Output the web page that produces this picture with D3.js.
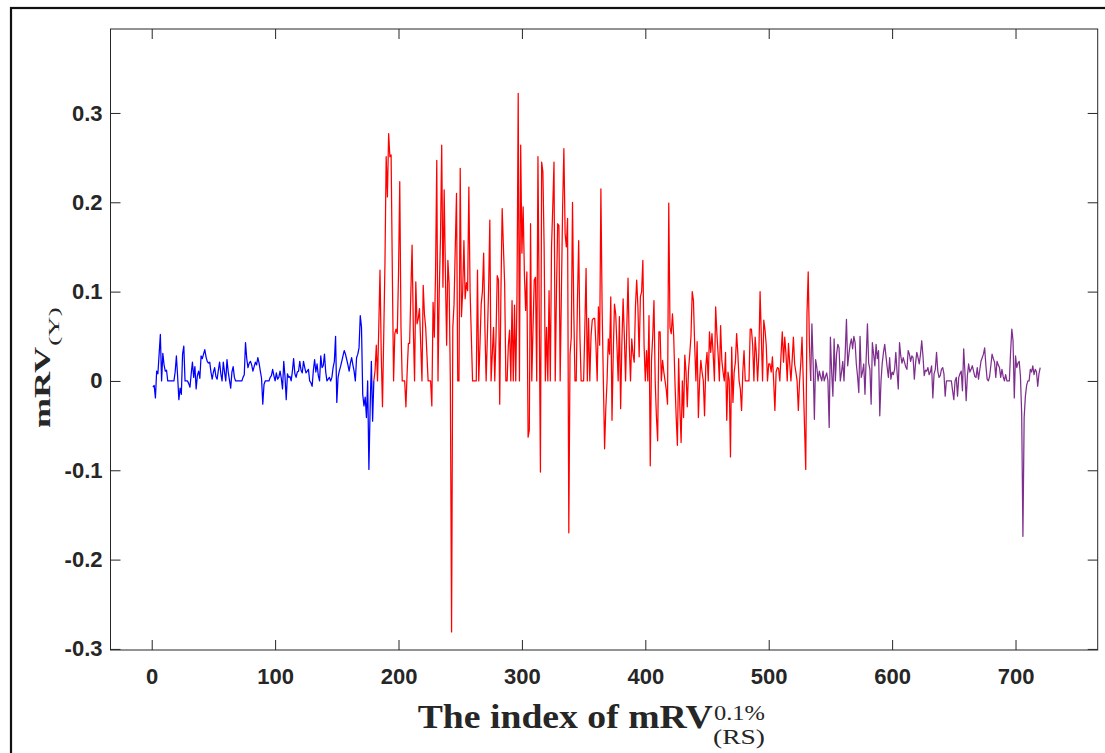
<!DOCTYPE html>
<html>
<head>
<meta charset="utf-8">
<script src="https://cdn.jsdelivr.net/npm/d3@7"></script>
<style>
  html, body { margin: 0; padding: 0; background: #fff; }
  svg { display: block; }
</style>
</head>
<body>
<svg id="chart" width="1105" height="753"></svg>
<script>
// ---------------- data ----------------
const xTicks = [0, 100, 200, 300, 400, 500, 600, 700];
const yTicks = [-0.3, -0.2, -0.1, 0, 0.1, 0.2, 0.3];
const yTickLabels = ["-0.3", "-0.2", "-0.1", "0", "0.1", "0.2", "0.3"];

const blueStart = 1;
const blueValues = [
  -0.007,-0.005,-0.019,0.011,0.008,0.030,0.052,0,0.031,0.018,
  0.011,0.012,0,0,0,0,0,0,0.010,0.028,
  0.005,-0.021,-0.008,-0.015,0.030,0.039,0,0,0,-0.003,
  -0.007,0.008,0.021,0.004,0.016,-0.009,0.006,0.011,0.003,0.028,
  0.025,0.030,0.035,0.027,0.022,0.020,0.021,0.010,0.002,0.010,
  0.015,0.005,0.002,0.012,0.021,0.008,0,0.021,0.010,0,
  0.024,0.010,0.001,-0.008,0.010,0.016,0.004,0,0,0,
  0,0,0,0.004,0.007,0.043,0.025,0.015,0.020,0.022,
  0.018,0.011,0.016,0.021,0.018,0.026,0.020,0.011,0.003,-0.026,
  -0.004,0,0,0,0,0.004,0.006,0.013,0.006,0,
  0.009,0.002,0.004,0.011,0.003,-0.009,0.022,0.005,-0.021,0.008,
  0.004,0.005,0,0.011,0.025,0.008,0.004,0.010,0.011,0.022,
  0.012,0.009,0.022,0.015,0.009,0.011,0.013,0,-0.002,-0.006,
  0.012,0.024,0.010,0.019,0.006,0,0.028,0.015,0.017,0.030,
  0.010,0,0.002,0.004,0,0.004,0.015,0.022,0.050,-0.024,
  0.004,0.011,0.016,0.022,0.028,0.034,0.030,0.024,0.018,0.011,
  0.020,0.026,0.018,0.011,0,0.026,0.030,0.037,0.073,0.060,
  -0.015,-0.028,-0.018,-0.041,0,-0.099,-0.030,0.022,-0.045,0
];

const redStart = 180;
const redValues = [
  0,0.012,0.040,0,0.060,0.124,0.030,-0.029,0.050,0.130,
  0.251,0.206,0.277,0.251,0.253,0.120,0,0.053,0.058,0.053,
  0.120,0.223,0.060,0,0,0,-0.029,0.010,0.042,0.042,
  0.100,0.152,0.060,0,0.111,0.064,0.070,0.081,0.040,0,
  0.107,0.075,0.060,0.030,0,0,0,-0.028,0.088,0.049,
  0.120,0.247,0,0.100,0.160,0.264,0.105,0.214,0.120,0.040,
  0.135,0.109,0,-0.281,0.060,0.086,0.150,0.210,0,0,
  0.238,0.072,0.100,0.157,0.092,0.110,0.101,0.217,0.101,0.050,
  0,0,0,0,0.124,0,0.040,0.086,0.100,0.143,
  0.060,0,0.050,0.103,0.180,0,0.030,0.060,0,0.050,
  0.118,0.113,-0.026,0.100,0.193,0.150,0.109,0,0,0.040,
  0.057,0,0.090,0,0.085,0,0.094,0.322,0,0.264,
  0.143,0.195,0.120,0.079,0.122,-0.063,-0.055,0.176,0,0.060,
  0.113,0.116,0,0.251,0.080,-0.102,0.245,0.234,0.150,0,
  0.060,0,0.101,0,0.150,0.195,0.245,0,0.100,0.176,
  0.174,0,0.100,0.195,0.260,0.165,0.150,0.182,-0.170,0.030,
  0.049,0.200,0.080,0,0,0.090,0.157,0.050,0,0,
  0,0.060,0.126,0,0.070,0,0.050,0.068,0.070,0.070,
  0.040,0,0.083,0.040,0.215,0.080,0,-0.076,-0.030,0,
  0.047,0.030,0.094,-0.044,0.030,0.086,0.075,0.040,0,0.072,
  -0.031,0.042,0.092,0.050,0,0.060,0.115,0.040,0,0.047,
  0.030,0.021,0.083,0.113,0.083,0.027,0.094,0.100,0.135,0.040,
  0,0.034,0,0.073,-0.095,0.023,0.050,0.090,0,-0.040,
  -0.067,0.055,0.055,0,0.023,0.010,0,-0.010,-0.026,0.199,
  0.060,0.053,0.075,0.050,0,-0.040,-0.072,0.025,-0.030,-0.069,
  0,-0.041,0.029,0.010,-0.029,0.012,0.030,0.050,0.100,0.090,
  0.040,0,0.044,-0.041,0,0.023,0.010,0,-0.039,0.016,
  0.032,0,0.055,0.032,0.053,0.030,0,0.083,0.053,0.030,
  0,0.062,0.023,0.010,0,0.032,-0.044,0.010,0,-0.085,
  0.038,-0.024,0.010,0.021,0.053,0.030,0,-0.009,-0.033,0.010,
  0.034,0,0,0,0,0.058,0.058,0.040,0,0.049,
  0.030,0,0.030,0.100,0.050,0,0.068,0.057,0.040,0,
  0.019,0.019,0.010,0.027,0,-0.033,0.010,0.015,0.014,0,
  0.030,0.055,0.021,0.049,0.030,0,0.042,0.020,0,0.023,
  0.049,0.019,0.010,0,-0.033,0,0.020,0.049,0,-0.050,
  -0.099,0.075,0.122,0.040,0
];

const purpleStart = 534;
const purpleValues = [
  0,0.064,0.020,-0.043,0.024,0.015,0,0.011,0.005,0,
  0.011,0,0.005,0.009,0,-0.052,0.049,0.010,-0.017,0.047,
  0,0.030,0.041,0.037,0,0.010,0.022,0,0.032,0.069,
  0.017,0.030,0.041,0.047,0.036,0.050,0.043,0.019,0.005,-0.013,
  0.050,0.004,0.010,0.019,-0.015,0.026,0.064,0.020,0.013,-0.026,
  0.043,0.030,0.017,0.041,0.025,0.034,-0.039,0,0.020,0.032,
  0.041,0.028,0.015,0.004,0.026,0.002,0.010,0.007,0.013,0.032,
  0.010,-0.009,0.043,0.028,0.020,0.026,0.021,0.016,0.013,0.034,
  0.030,0.022,0.028,0.026,0.002,0.020,0.032,0.026,0.019,0.030,
  0.045,0.028,0.006,0.012,0.011,0.015,0.007,0.010,0.017,-0.019,
  0.008,0.013,0.032,0.011,0.004,0.006,0.013,0.015,0.008,-0.017,
  0,0,0,0,0,-0.011,-0.021,0,0.004,-0.017,
  0.004,0.008,0.011,-0.011,0.036,0.010,-0.022,0.006,0.019,0.010,
  0.013,0.017,0.011,0.005,0.004,0.015,0.002,0.012,0.022,0.026,
  0.030,0.037,0.017,0.002,0,0.005,0.017,0.030,0.025,0.021,
  0.004,0.022,0.018,0.015,0.004,0.013,0.005,0,0.007,0,
  0,0,0.032,0.058,0.045,-0.019,0.028,0.015,0.020,0.022,
  0.005,-0.037,-0.174,-0.041,-0.017,-0.005,0,0,0.013,0.010,
  0.017,0.007,0.013,0.010,-0.006,0.008,0.015
];

const seriesColors = ["#0000ff", "#ff0000", "#7e2f8e"];

// ---------------- chart ----------------
const svg = d3.select("#chart");
const L = 110.5, R = 1097.7, T = 29, B = 650;

const x = d3.scaleLinear().domain([-33.4, 766.6]).range([L, R]);
const y = d3.scaleLinear().domain([-0.3012, 0.394]).range([B, T]);

// outer frame
svg.append("rect")
  .attr("x", 11).attr("y", 8).attr("width", 1110).attr("height", 770)
  .attr("fill", "none").attr("stroke", "#111").attr("stroke-width", 2.2);

const axisColor = "#262626";
const tickFont = "'Liberation Sans', Arial, Helvetica, sans-serif";

// data lines
const toPoints = (start, vals) => vals.map((v, k) => [start + k, v]);
const line = d3.line().x(d => x(d[0])).y(d => y(d[1]));
const series = [
  toPoints(blueStart, blueValues),
  toPoints(redStart, redValues),
  toPoints(purpleStart, purpleValues)
];
svg.append("g").selectAll("path").data(series).join("path")
  .attr("d", line)
  .attr("fill", "none")
  .attr("stroke", (d, i) => seriesColors[i])
  .attr("stroke-width", 1.25)
  .attr("stroke-linejoin", "round");

// axes
const gB = svg.append("g").attr("transform", `translate(0,${B})`)
  .call(d3.axisBottom(x).tickValues(xTicks).tickFormat(d3.format("d"))
        .tickSizeInner(-10).tickSizeOuter(0).tickPadding(18));
const gT = svg.append("g").attr("transform", `translate(0,${T})`)
  .call(d3.axisTop(x).tickValues(xTicks).tickFormat("")
        .tickSizeInner(-10).tickSizeOuter(0));
const gL = svg.append("g").attr("transform", `translate(${L},0)`)
  .call(d3.axisLeft(y).tickValues(yTicks).tickFormat((d, i) => yTickLabels[i])
        .tickSizeInner(-10).tickSizeOuter(0).tickPadding(8));
const gR = svg.append("g").attr("transform", `translate(${R},0)`)
  .call(d3.axisRight(y).tickValues(yTicks).tickFormat("")
        .tickSizeInner(-10).tickSizeOuter(0));

[gB, gT, gL, gR].forEach(g => {
  g.select(".domain").remove();
  g.selectAll(".tick line").attr("stroke", axisColor).attr("stroke-width", 1);
  g.selectAll(".tick text")
    .attr("fill", axisColor)
    .style("font-family", tickFont)
    .style("font-weight", "bold")
    .style("font-size", "22px");
});

// box
svg.append("rect")
  .attr("x", L).attr("y", T).attr("width", R - L).attr("height", B - T)
  .attr("fill", "none").attr("stroke", axisColor).attr("stroke-width", 1);

// x label
const serif = "'Liberation Serif', 'Times New Roman', serif";
const xl = svg.append("g").attr("fill", "#262626").style("font-family", serif);
xl.append("text").attr("x", 417.7).attr("y", 728.3)
  .attr("textLength", 295).attr("lengthAdjust", "spacingAndGlyphs")
  .style("font-weight", "bold")
  .style("font-size", "34px").text("The index of mRV");
xl.append("text").attr("x", 714).attr("y", 719.5)
  .attr("textLength", 51).attr("lengthAdjust", "spacingAndGlyphs")
  .style("font-size", "21px").text("0.1%");
xl.append("text").attr("x", 713).attr("y", 743.5)
  .attr("textLength", 52).attr("lengthAdjust", "spacingAndGlyphs")
  .style("font-size", "22px").text("(RS)");

// y label (rotated, compressed across the reading direction)
const yl = svg.append("g").attr("fill", "#262626").style("font-family", serif)
  .attr("transform", "translate(50,428) rotate(-90) scale(1,0.65)");
yl.append("text").attr("x", 0).attr("y", 0)
  .attr("textLength", 81).attr("lengthAdjust", "spacingAndGlyphs")
  .style("font-weight", "bold")
  .style("font-size", "35px").text("mRV");
yl.append("text").attr("x", 82).attr("y", 14)
  .attr("textLength", 39).attr("lengthAdjust", "spacingAndGlyphs")
  .style("font-size", "23px").text("(Y)");
</script>
</body>
</html>
